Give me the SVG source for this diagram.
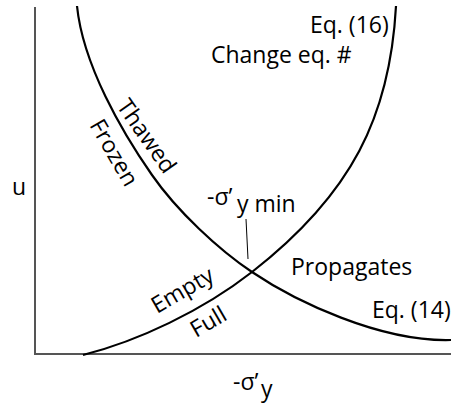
<svg xmlns="http://www.w3.org/2000/svg" width="451" height="405" viewBox="0 0 451 405">
  <style>
    text { font-family: "Open Sans", "Noto Sans", sans-serif; font-size: 23px; fill: #000; }
    .axis { fill: none; stroke: #555; stroke-width: 2; }
    .curve { fill: none; stroke: #000; stroke-width: 2.2; }
    .leader { fill: none; stroke: #000; stroke-width: 1; }
  </style>
  <rect width="451" height="405" fill="#fff"/>
  <g id="axes">
    <path class="axis" d="M35,7 V354 H451"/>
    <text x="12" y="195">u</text>
    <text x="233" y="390">-σ’<tspan x="261" dy="7">y</tspan></text>
  </g>
  <g id="connectors">
    <path id="eq14" class="curve" d="M77,6 C83,65 122,132 152,175 C177,211 219,250 252,272 C295,301 380,342 451,340"/>
    <path id="eq16" class="curve" d="M83,355 C138,341 202,311 252,272 C352,194 390,116 396,6"/>
    <path id="leader" class="leader" d="M246,219 L248,259"/>
  </g>
  <g id="label-eq16"><text x="310" y="33">Eq. (16)</text></g>
  <g id="label-change"><text x="211" y="63">Change eq. #</text></g>
  <g id="label-thawed"><text transform="translate(116,106) rotate(55)">Thawed</text></g>
  <g id="label-frozen"><text transform="translate(89,125) rotate(60)">Frozen</text></g>
  <g id="label-sigma-min"><text x="207" y="205">-σ’<tspan x="237" dy="7">y min</tspan></text></g>
  <g id="label-propagates"><text x="291" y="275">Propagates</text></g>
  <g id="label-eq14"><text x="372" y="318">Eq. (14)</text></g>
  <g id="label-empty"><text transform="translate(157,314) rotate(-30)">Empty</text></g>
  <g id="label-full"><text transform="translate(196,338) rotate(-30)">Full</text></g>
</svg>
